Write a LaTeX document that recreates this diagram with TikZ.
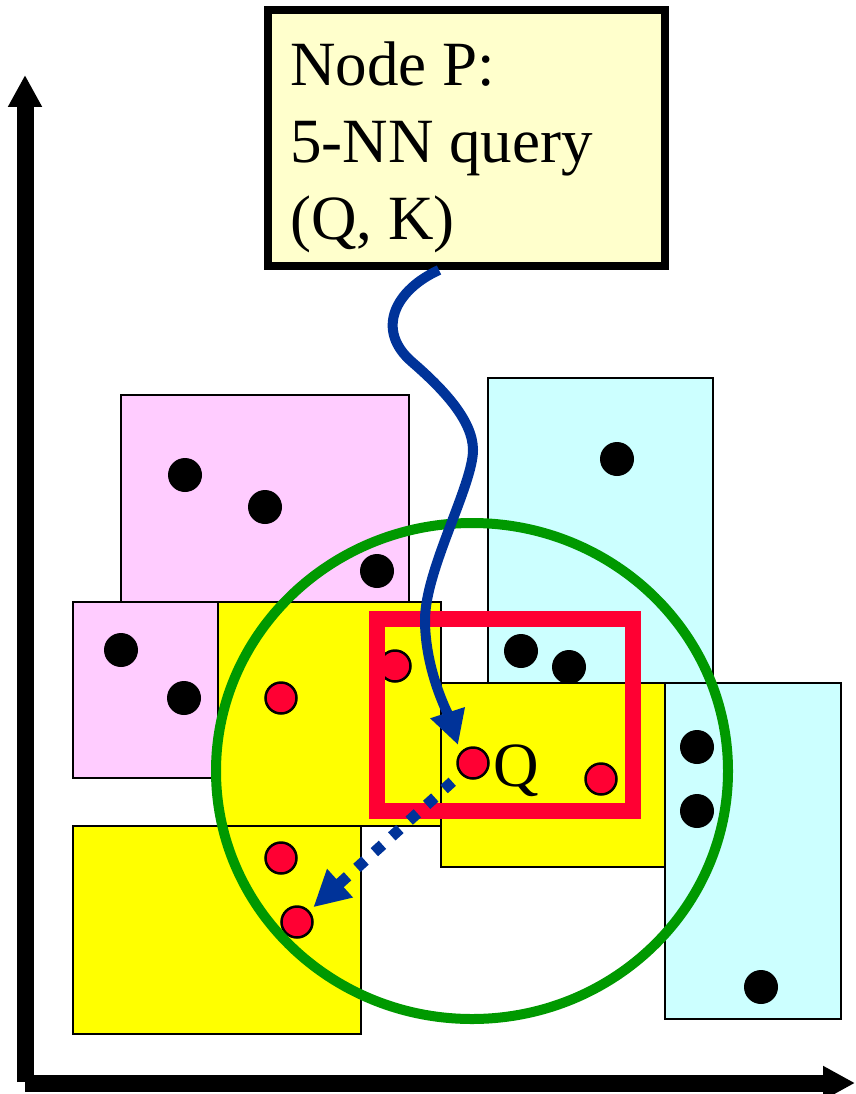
\documentclass[tikz,border=0pt]{standalone}
\usepackage{fontspec}
\newfontfamily\timesfont{Liberation Serif}
\usetikzlibrary{arrows.meta}
\definecolor{pinkf}{HTML}{FFCCFF}
\definecolor{cyanf}{HTML}{CCFFFF}
\definecolor{yellowf}{HTML}{FFFF00}
\definecolor{notef}{HTML}{FFFFCC}
\definecolor{framered}{HTML}{FF0033}
\definecolor{circgreen}{HTML}{009900}
\definecolor{arrowblue}{HTML}{003399}
\begin{document}
\begin{tikzpicture}[x=1pt,y=-1pt,
  mbr/.style={draw=black,line width=2.5pt},
  pinkbox/.style={mbr,fill=pinkf},
  cyanbox/.style={mbr,fill=cyanf},
  yellowbox/.style={mbr,fill=yellowf},
  bdot/.style={circle,fill=black,inner sep=0pt,minimum size=34pt},
  rdot/.style={circle,fill=framered,draw=black,line width=2.5pt,inner sep=0pt,minimum size=31pt},
  axis/.style={line width=17pt,-{Triangle[length=32pt,width=32pt]}},
  notebox/.style={rectangle,draw=black,line width=8pt,fill=notef,inner sep=0pt,minimum width=397pt,minimum height=256pt},
  bigtext/.style={font=\timesfont\fontsize{63}{77}\selectfont},
  bluecurve/.style={draw=arrowblue,line width=10pt,-{Triangle[length=34pt,width=34pt]}},
  bluedots/.style={draw=arrowblue,line width=11pt,dash pattern=on 11pt off 12.5pt,-{Triangle[length=36pt,width=36pt]}}
]
\useasboundingbox (0,0) rectangle (855,1094);

% axes
\coordinate (ybot) at (25,1082);
\coordinate (ytop) at (25,75);
\coordinate (xbeg) at (25,1083);
\coordinate (xend) at (855,1083);
\draw[axis] (ybot) -- (ytop);
\draw[axis] (xbeg) -- (xend);

% MBRs
\draw[pinkbox] (121,395) rectangle (409,602);
\draw[pinkbox] (73,602) rectangle (218,778);
\draw[yellowbox] (218,602) rectangle (441,826);
\draw[cyanbox] (488,378) rectangle (713,683);
\draw[yellowbox] (441,683) rectangle (665,867);
\draw[cyanbox] (665,683) rectangle (841,1019);
\draw[yellowbox] (73,826) rectangle (361,1034);

% black points
\node[bdot] (b1) at (185,475) {};
\node[bdot] (b2) at (265,507) {};
\node[bdot] (b3) at (377,571) {};
\node[bdot] (b4) at (121,650) {};
\node[bdot] (b5) at (184,698) {};
\node[bdot] (b6) at (617,459) {};
\node[bdot] (b7) at (521,651) {};
\node[bdot] (b8) at (569,667) {};
\node[bdot] (b9) at (697,747) {};
\node[bdot] (b10) at (697,811) {};
\node[bdot] (b11) at (761,987) {};

% red points (5 nearest neighbours + query)
\node[rdot] (r1) at (395,666) {};
\node[rdot] (r2) at (281,698) {};
\node[rdot] (q) at (473,763) {};
\node[rdot] (r4) at (601,779) {};
\node[rdot] (r5) at (281,858) {};
\node[rdot] (r6) at (297,922) {};

% red search frame
\draw[draw=framered,line width=16pt] (377,619) rectangle (633,811);

% green circle
\draw[draw=circgreen,line width=10pt] (472,771) ellipse [x radius=256pt, y radius=248pt];

% query box
\node[notebox] (box) at (466.5,138) {};
\node[bigtext,anchor=north west,inner sep=0pt,align=left] (boxtext) at (290,42) {Node P:\\5-NN query\\(Q, K)};

% blue curved arrow
\coordinate (s0) at ([xshift=-27.5pt]box.south);
\coordinate (tq) at ([shift={(-15pt,18pt)}]q.center);
\draw[bluecurve] (s0) .. controls (395,290) and (375,330) .. (412,362)
  .. controls (442,388) and (473,420) .. (473,450)
  .. controls (473,485) and (425,570) .. (425,620)
  .. controls (425,670) and (448,714) .. (tq);

% dotted arrow
\draw[bluedots,shorten <=28pt,shorten >=22pt] (q.center) -- (r6.center);

% Q label
\node[bigtext,anchor=base west,inner sep=0pt] (qlabel) at (493,786) {Q};
\end{tikzpicture}
\end{document}
